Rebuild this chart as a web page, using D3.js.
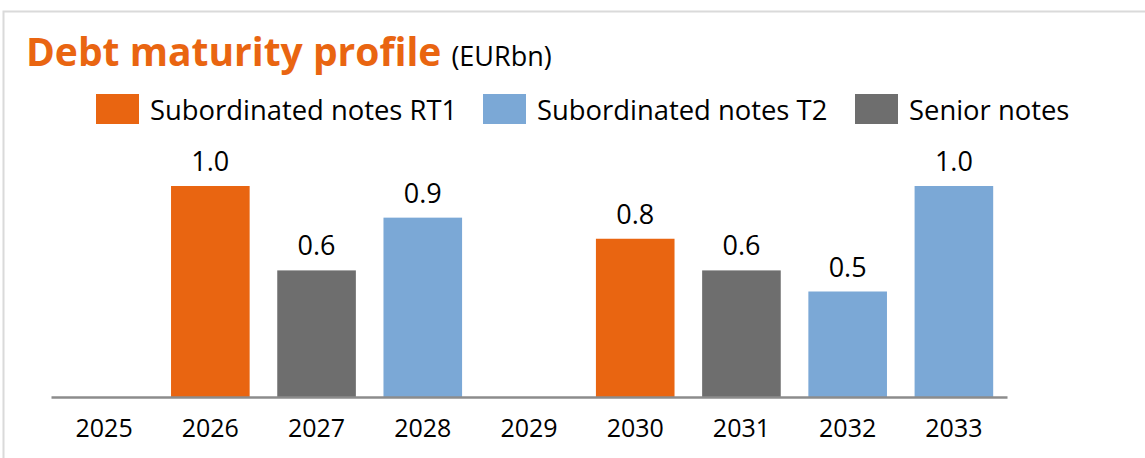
<!DOCTYPE html>
<html>
<head>
  <meta charset="utf-8">
  <script src="https://cdn.jsdelivr.net/npm/d3@7"></script>
  <style type="text/css">
    body {
      margin: 0;
      background: #fff;
      font-family: "Open Sans", sans-serif;
    }
    .axis text {
      font-size: 25px;
      fill: #000;
    }
  </style>
</head>
<body>
  <script type="text/javascript">

  // chart data
  const years = ['2025', '2026', '2027', '2028', '2029', '2030', '2031', '2032', '2033'];
  const seriesNames = ['Subordinated notes RT1', 'Subordinated notes T2', 'Senior notes'];
  const barYears = ['2026', '2027', '2028', '2030', '2031', '2032', '2033'];
  const barSeries = ['Subordinated notes RT1', 'Senior notes', 'Subordinated notes T2',
                     'Subordinated notes RT1', 'Senior notes', 'Subordinated notes T2', 'Subordinated notes T2'];
  const barValues = [1.0, 0.6, 0.85, 0.75, 0.6, 0.5, 1.0];
  const barLabels = ['1.0', '0.6', '0.9', '0.8', '0.6', '0.5', '1.0'];

  const width = 1145, height = 458;
  const colors = d3.scaleOrdinal()
    .domain(seriesNames)
    .range(['#e96511', '#7ba8d6', '#6e6e6e']);

  const svg = d3.select('body').append('svg')
    .attr('width', width)
    .attr('height', height);

  // light frame
  svg.append('path')
    .attr('d', `M3.5,${height} V11.5 H${width}`)
    .attr('fill', 'none')
    .attr('stroke', '#dadada')
    .attr('stroke-width', 2);

  // title
  const title = svg.append('text')
    .attr('x', 26)
    .attr('y', 66);
  title.append('tspan')
    .attr('font-size', 39)
    .attr('font-weight', 'bold')
    .attr('fill', '#e96511')
    .text('Debt maturity profile');
  title.append('tspan')
    .attr('font-size', 27)
    .attr('fill', '#000')
    .attr('dx', 10)
    .text('(EURbn)');

  // legend
  const legendX = [96, 483, 855];
  const legend = svg.append('g').selectAll('g')
    .data(seriesNames)
    .join('g')
    .attr('transform', (d, i) => `translate(${legendX[i]},94)`);
  legend.append('rect')
    .attr('width', 43)
    .attr('height', 30)
    .attr('fill', d => colors(d));
  legend.append('text')
    .attr('x', 54)
    .attr('y', 26)
    .attr('font-size', 27.4)
    .attr('fill', '#000')
    .text(d => d);

  // scales
  const x = d3.scaleBand()
    .domain(years)
    .range([51, 1007])
    .paddingInner(0.26)
    .paddingOuter(0.13);

  const y = d3.scaleLinear()
    .domain([0, 1])
    .range([397, 186]);

  // bars
  const bars = barYears.map((d, i) => ({year: d, series: barSeries[i], value: barValues[i], label: barLabels[i]}));

  svg.append('g').selectAll('rect')
    .data(bars)
    .join('rect')
    .attr('x', d => x(d.year))
    .attr('width', x.bandwidth())
    .attr('y', d => y(d.value))
    .attr('height', d => y(0) - y(d.value))
    .attr('fill', d => colors(d.series));

  svg.append('g').selectAll('text')
    .data(bars)
    .join('text')
    .attr('x', d => x(d.year) + x.bandwidth() / 2)
    .attr('y', d => y(d.value) - 15)
    .attr('text-anchor', 'middle')
    .attr('font-size', 27)
    .attr('fill', '#000')
    .text(d => d.label);

  // x axis
  const axisX = d3.axisBottom(x).tickSize(0).tickPadding(22);
  const gx = svg.append('g')
    .attr('class', 'axis')
    .attr('transform', `translate(0,${y(0)})`)
    .call(axisX);
  gx.select('.domain')
    .attr('stroke', '#8c8c8c')
    .attr('stroke-width', 2.5);
  gx.selectAll('text').attr('font-family', '"Open Sans", sans-serif');

  </script>
</body>
</html>
